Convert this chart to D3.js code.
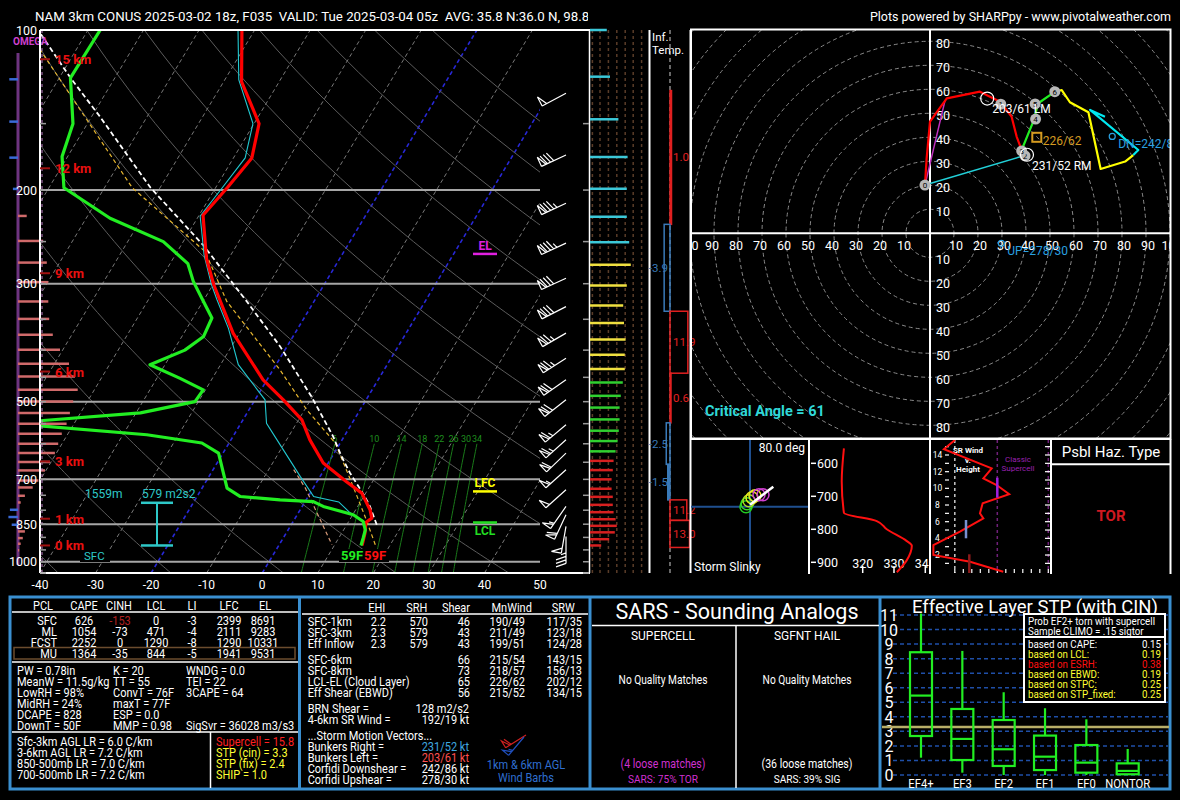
<!DOCTYPE html>
<html><head><meta charset="utf-8">
<script src="https://cdn.jsdelivr.net/npm/d3@7/dist/d3.min.js"></script>
<style>
html,body{margin:0;padding:0;background:#000;}
svg{display:block;}
text{font-family:Roboto,"Liberation Sans",Arial,sans-serif;white-space:pre;}
</style></head>
<body>
<svg id="chart" width="1180" height="800"></svg>
<script>
// ======================= DATA =======================
const titleLeft = "NAM 3km CONUS 2025-03-02 18z, F035  VALID: Tue 2025-03-04 05z  AVG: 35.8 N:36.0 N, 98.8";
const titleRight = "Plots powered by SHARPpy - www.pivotalweather.com";

// Skew-T profiles (pressure mb, deg C)
const tempP = [932,884,844,828,799,743,707,652,590,541,496,455,372,322,301,269,223,198,174,150,125,100];
const tempC = [15.0,14.2,13.2,13.8,12.6,9.3,5.3,-0.9,-5.8,-9.4,-14.9,-20.7,-31.1,-37.1,-39.9,-44.0,-49.3,-47.9,-46.7,-49.1,-56.8,-62.3];
const dwptP = [932,903,871,840,816,787,771,765,754,727,625,598,577,549,525,500,475,452,426,400,377,348,324,297,275,250,226,198,173,150,123,100];
const dwptC = [14.8,14.4,13.9,12.6,10.1,3.8,1.5,-4.7,-12.2,-15.5,-20.8,-24.9,-35.7,-62,-39.2,-30.6,-30.4,-35.8,-42.7,-38,-36.1,-36.6,-39.9,-43.9,-46.8,-53.6,-65.7,-77.3,-81,-82.6,-88,-87.8];
const wetbP = [932,903,871,840,810,772,754,691,603,549,496,426,364,322,301,265,224,198,174,150,124,100];
const wetbC = [14.9,14.5,14.0,12.8,9.4,6.1,1.0,-3.6,-10.6,-15.4,-18.2,-26.8,-32.5,-37.6,-40.3,-44.8,-49.7,-48.8,-47.9,-50.2,-57.5,-63];
const parcelP = [852,787,754,722,681,634,581,489,394,324,254,198,145,123,100];
const parcelC = [15.4,12.2,10.2,8.0,5.0,1.7,-2.0,-10.2,-21.2,-32.1,-46,-61.7,-78.7,-88,-99];
const parcel2P = [929,822,701,598,518,436,324,261,198,100];
const parcel2C = [17.3,12.4,5.8,-0.9,-9.6,-18.7,-35.7,-45,-65,-101];
const downP = [671,727,929];
const downC = [-5.5,-1.4,9.5];

const pressureLabels = [100,200,300,500,700,850,1000];
const isobars = [200,300,500,700,850,1000];
const tempLabels = [-40,-30,-20,-10,0,10,20,30,40,50];
const dryAdiabatsC = [-40,-20,0,20,40,60,80,100,120,140,160,180,200];
const mixRatios = [6,10,14,18,22,26,30,34];

const hgtLabels = ["15 km","12 km","9 km","6 km","3 km","1 km","0 km"];
const hgtP = [113.5,182,286.7,438.8,647.8,830,932];

const levelNames = ["LFC","LCL","EL"];
const levelP = [737.5,843.7,263.7];
const levelColors = ["#ffff00","#22dd22","#e020e0"];

const srhTopP = 774.7, srhBotP = 932;
const srhLabels = ["1559m","579 m2s2"];

// omega (arbitrary units, + right / - left)
const omegaP = [123.8,148.7,173.8,199,223.7,249.3,273.8,298,324,349.4,374.3,399.5,424.5,448.4,475,499.7,525.4,550.3,574.6,600,624.7,649.4,673.4,703.5,725,751.5,773.7,798.6,824,852,877,902.7,925,952];
const omegaV = [-2.9,-2.9,-2.9,-1.7,2.9,8.4,9.6,10.1,10.1,10.4,11.6,14,17,19,19.9,18.4,17.3,16.2,14.6,13.4,12.3,10.7,9,6.8,4.9,2.3,0.9,-2.7,-3.2,-2.1,2.3,1.6,0.9,0.4];

// wind barbs
const barbP = [131.5,171.8,211.7,251.7,292.9,331.3,371.6,414.1,454.9,496,552.7,589.8,624.7,671.4,732.2,787,816,858.3,896.1];
const barbDir = [242,245,245,245,245,243,240,237,235,232,230,228,226,228,228,215,205,190,180];
const barbSpd = [50,80,85,85,80,80,75,75,70,70,65,65,60,55,50,55,60,50,35];

// wind speed bars (kt)
const spdP = [100,122.4,147.2,173.3,198.8,224.6,250.6,276.5,302.5,329.6,355.5,382,408,434,460,487.5,513,540,567,593,620,646,672.5,700,729,755,781.6,807,832,856,880.5,907,932];
const spdV = [42,50,71,94,92,92,98,102,92,83,85,89,87,87,82,77,74,74,72,69,64,59,57,54,54,57,57,59,64,67,62,48,28];

// inferred temperature advection layers
const advTop = [130,232,338,442,548,656,765,836];
const advBot = [232,338,442,548,656,765,836,940];
const advVal = [1.0,-3.9,11.9,0.6,-2.5,-1.5,11.2,13.0];

// hodograph (kt)
const hodo03 = [[-2.1,20.1],[-1.4,31.2],[0,46.5],[3.5,51.4],[7,56.2],[20.8,59],[29.2,54.8],[34,48.6],[36.1,40.3],[38.2,34.7]];
const hodo36 = [[38.2,34.7],[43,46.5],[45.1,54.2],[52.1,59]];
const hodo69 = [[52.1,59],[54.9,59.7],[58.3,54.6],[66,50.4],[71.1,26.8],[81.3,29.9],[84.7,32.6]];
const hodo912 = [[84.7,32.6],[86.8,34.7],[66.7,51.4],[72.9,48.6]];
const hodoMarkKm = [0,1,2,3,4,5,6];
const hodoMarkUV = [[-2.1,20.1],[29.5,53.8],[39.6,32.3],[38.2,34.3],[44,47.6],[43.8,53.9],[52,59]];
const rmDirSpd = [231,52], lmDirSpd = [203,61], dnDirSpd = [242,86], upDirSpd = [278,30];
const meanWindUV = [44.5,40];
const criticalAngle = 61;

// storm slinky
const slinkyU = [-4,-3,-1,2,5,9,13];
const slinkyV = [-3,0,3,6,8,9,9];
const slinkyCol = ["#22cc22","#33dd22","#aadd22","#e8e820","#e8e820","#d040d0","#d040d0"];

// theta-e vs pressure
const thetaeP = [555,655,750,775,800,835,850,895,930];
const thetaeK = [314,313.3,314,324.5,327.7,334,335.7,334,330.9];

// SR wind vs height
const srKm = [15.8,14.7,12.4,11.2,10.4,9.3,8.2,7.0,6.4,4.8,3.2,2.0,1.2,0];
const srKt = [15.1,8.6,36.7,31.8,39.6,47,31.4,29.8,31.8,18,2.4,2.4,24,43.5];

// thermo table
const pclHeader = ["PCL","CAPE","CINH","LCL","LI","LFC","EL"];
const pclRows = [["SFC","626","-153","0","-3","2399","8691"],["ML","1054","-73","471","-4","2111","9283"],["FCST","2252","0","1290","-8","1290","10331"],["MU","1364","-35","844","-5","1941","9531"]];
const thermoCol1 = ["PW = 0.78in","MeanW = 11.5g/kg","LowRH = 98%","MidRH = 24%","DCAPE = 828","DownT = 50F"];
const thermoCol2 = ["K = 20","TT = 55","ConvT = 76F","maxT = 77F","ESP = 0.0","MMP = 0.98"];
const thermoCol3 = ["WNDG = 0.0","TEI = 22","3CAPE = 64","","","SigSvr = 36028 m3/s3"];
const lapseRates = ["Sfc-3km AGL LR = 6.0 C/km","3-6km AGL LR = 7.2 C/km","850-500mb LR = 7.0 C/km","700-500mb LR = 7.2 C/km"];
const svrIdx = ["Supercell = 15.8","STP (cin) = 3.3","STP (fix) = 2.4","SHIP = 1.0"];
const svrCol = ["#ff2020","#ffff33","#ffff33","#ffff33"];

// kinematic table
const kinHeader = ["EHI","SRH","Shear","MnWind","SRW"];
const kinRows1 = [["SFC-1km","2.2","570","46","190/49","117/35"],["SFC-3km","2.3","579","43","211/49","123/18"],["Eff Inflow","2.3","579","43","199/51","124/28"]];
const kinRows2 = [["SFC-6km","","","66","215/54","143/15"],["SFC-8km","","","73","218/57","156/13"],["LCL-EL (Cloud Layer)","","","65","226/62","202/12"],["Eff Shear (EBWD)","","","56","215/52","134/15"]];
const kinMisc = [["BRN Shear =","128 m2/s2"],["4-6km SR Wind =","192/19 kt"]];
const stormVec = [["Bunkers Right =","231/52 kt","#3fa9e0"],["Bunkers Left =","203/61 kt","#ff5050"],["Corfidi Downshear =","242/86 kt","#ffffff"],["Corfidi Upshear =","278/30 kt","#ffffff"]];

// STP box plot
const stpCats = ["EF4+","EF3","EF2","EF1","EF0","NONTOR"];
const stpLo = [1.19,0.16,0,0,0,0];
const stpQ1 = [2.68,1.03,0.62,0.34,0.16,0.05];
const stpMed = [5.46,2.48,1.77,1.26,0.85,0.28];
const stpQ3 = [8.44,4.54,3.78,2.71,2.06,0.8];
const stpHi = [11.1,8.53,5.69,4.59,3.83,1.79];
const stpValue = 3.3;
const stpTicks = [0,1,2,3,4,5,6,7,8,9,10,11];
const probLabels = ["based on CAPE:","based on LCL:","based on ESRH:","based on EBWD:","based on STPC:","based on STP_fixed:"];
const probVals = ["0.15","0.19","0.38","0.19","0.25","0.25"];
const probCols = ["#ffffff","#ffff33","#ff1010","#ffff33","#ffff33","#ffff33"];

// ======================= DRAW =======================
const svg = d3.select("#chart");
const defs = svg.append("defs");
svg.append("rect").attr("width",1180).attr("height",800).attr("fill","#000");
let clipN = 0;
function clip(x,y,w,h){ const id="cp"+(clipN++); defs.append("clipPath").attr("id",id).append("rect").attr("x",x).attr("y",y).attr("width",w).attr("height",h); return `url(#${id})`; }
function txt(g,x,y,s,o={}){
  const t=g.append("text").text(s).attr("fill",o.fill||"#fff").attr("font-size",o.size||12).attr("text-anchor",o.anchor||"start");
  if(o.cond){ t.attr("x",0).attr("y",0).attr("transform",`translate(${x},${y}) scale(${o.cond},1)`); }
  else t.attr("x",x).attr("y",y);
  if(o.weight) t.attr("font-weight",o.weight); return t; }
function line(g,x1,y1,x2,y2,c,w,dash){ const l=g.append("line").attr("x1",x1).attr("y1",y1).attr("x2",x2).attr("y2",y2).attr("stroke",c).attr("stroke-width",w||1); if(dash) l.attr("stroke-dasharray",dash); return l; }

// titles
txt(svg.append("g").attr("clip-path",clip(0,0,588,30)),35,21,titleLeft,{size:13.3});
txt(svg,1171,21,titleRight,{size:12.5,anchor:"end"});

// ---- Skew-T ----
const Y_TOP=30, Y_BOT=573, SKEW=0.6;
const yP = d3.scaleLog().domain([100,1050]).range([Y_TOP,Y_BOT]);
const xT = d3.scaleLinear().domain([-40,50]).range([40,540]);
const sx = (T,p) => xT(T) + SKEW*(Y_BOT - yP(p));
const skewLine = d3.line().x(d=>sx(d[1],d[0])).y(d=>yP(d[0]));
const zip = (a,b)=>a.map((v,i)=>[v,b[i]]);

const sk = svg.append("g");
const inner = sk.append("g").attr("clip-path",clip(40,30,500,543));
d3.range(-160,51,10).forEach(T=>{
  const hl = (T===0||T===-20);
  line(inner,sx(T,1050),yP(1050),sx(T,100),yP(100),hl?"#2828d8":"#7a7a7a",hl?1.6:1,"4,3");
});
const pGrid = d3.range(1050,99,-10);
dryAdiabatsC.forEach(th=>{
  const K=th+273.15;
  inner.append("path").attr("d",d3.line()(pGrid.map(p=>[sx(K*Math.pow(p/1000,0.2857)-273.15,p),yP(p)])))
    .attr("fill","none").attr("stroke","#5c5c5c").attr("stroke-width",1);
});
const tdFromW=(w,p)=>{const e=w*p/(622+w); const l=Math.log(e/6.112); return 243.5*l/(17.67-l);};
mixRatios.forEach(w=>{
  inner.append("path").attr("d",d3.line()(d3.range(1050,599,-10).map(p=>[sx(tdFromW(w,p),p),yP(p)])))
    .attr("fill","none").attr("stroke","#1a7a1a").attr("stroke-width",1);
  txt(inner,sx(tdFromW(w,600),600),yP(600)-2,String(w),{size:9,fill:"#1f8f1f",anchor:"middle"});
});
isobars.forEach(p=>line(inner,40,yP(p),540,yP(p),"#a6a6a6",2));
inner.append("path").attr("d",skewLine(zip(downP,downC))).attr("fill","none").attr("stroke","#d89a78").attr("stroke-width",1.2).attr("stroke-dasharray","4,3");
inner.append("path").attr("d",skewLine(zip(parcel2P,parcel2C))).attr("fill","none").attr("stroke","#e8b830").attr("stroke-width",1.2).attr("stroke-dasharray","4,3");
inner.append("path").attr("d",skewLine(zip(parcelP,parcelC))).attr("fill","none").attr("stroke","#ffffff").attr("stroke-width",1.8).attr("stroke-dasharray","5,3");
inner.append("path").attr("d",skewLine(zip(wetbP,wetbC))).attr("fill","none").attr("stroke","#22c8d0").attr("stroke-width",1.1);
inner.append("path").attr("d",skewLine(zip(tempP,tempC))).attr("fill","none").attr("stroke","#ff0000").attr("stroke-width",3.2).attr("stroke-linejoin","round");
inner.append("path").attr("d",skewLine(zip(dwptP,dwptC))).attr("fill","none").attr("stroke","#22ee22").attr("stroke-width",3.2).attr("stroke-linejoin","round");

levelNames.forEach((n,i)=>{
  const y=yP(levelP[i]);
  line(sk,473,y,497,y,levelColors[i],2.5);
  txt(sk,485,n==="LCL"?y+13:y-4,n,{size:12,fill:levelColors[i],anchor:"middle",weight:"bold"});
});
{
  const y1=yP(srhTopP), y2=yP(srhBotP), c="#2ec8c8";
  line(sk,157,y1,157,y2,c,2); line(sk,141,y1,173,y1,c,2.5); line(sk,141,y2,173,y2,c,2.5);
  txt(sk,85,y1-5,srhLabels[0],{size:12,fill:c});
  txt(sk,142,y1-5,srhLabels[1],{size:12,fill:c});
}
sk.append("rect").attr("x",80).attr("y",550).attr("width",30).attr("height",12).attr("fill","#000");
txt(sk,84,560,"SFC",{size:11.5,fill:"#2ec8c8"});
sk.append("rect").attr("x",339).attr("y",549).attr("width",50).attr("height",13).attr("fill","#000");
txt(sk,341,560,"59F",{size:13,fill:"#22ee22",weight:"bold"});
txt(sk,364,560,"59F",{size:13,fill:"#ff1010",weight:"bold"});

line(sk,18,53,18,565,"#6e3480",3);
omegaP.forEach((p,i)=>{
  const v=omegaV[i], y=yP(p);
  line(sk,18,y,18+v*3,y,v<0?"#3a6ad8":"#d06a6a",2.5);
});
txt(sk,13,45,"OMEGA",{size:10,fill:"#d040d0",weight:"bold"});

line(sk,40,30,40,573,"#ffffff",2);
line(sk,42,30,42,573,"#c080c8",1,"3,3");
line(sk,40,30,590,30,"#ffffff",2);
line(sk,40,573,590,573,"#ffffff",2);
line(sk,589.5,30,589.5,573,"#ffffff",1.5);
d3.range(150,1051,50).forEach(p=>{ line(sk,40,yP(p),46,yP(p),"#9a9a9a",1.5); line(sk,583,yP(p),589,yP(p),"#9a9a9a",1.5); });
pressureLabels.forEach(p=>txt(sk,37,yP(p)+4.5,String(p),{size:12.5,anchor:"end"}));
tempLabels.forEach(T=>txt(sk,xT(T),589,String(T),{size:12,anchor:"middle"}));
hgtLabels.forEach((s,i)=>{
  const y=yP(hgtP[i]);
  line(sk,40,y,50,y,"#a01010",2);
  txt(sk,55,y+5,s,{size:13,fill:"#e81010",weight:"bold"});
});

function drawBarb(g,x0,y0,dir,spd,col,L,F){
  L=L||27; F=F||10; col=col||"#fff";
  const a=dir*Math.PI/180, dx=Math.sin(a), dy=-Math.cos(a), rx=-dy, ry=dx;
  const pt=t=>[x0+dx*t,y0+dy*t];
  const p=d3.path(); const tip=pt(L);
  p.moveTo(x0,y0); p.lineTo(tip[0],tip[1]);
  let v=Math.round(spd/5)*5, s=0;
  const nP=Math.floor(v/50); v-=nP*50; const nF=Math.floor(v/10); v-=nF*10; const nH=v>=5?1:0;
  for(let i=0;i<nP;i++){ const a1=pt(L-s), a2=pt(L-s-5); p.moveTo(a1[0],a1[1]); p.lineTo(a1[0]+rx*F,a1[1]+ry*F); p.lineTo(a2[0],a2[1]); s+=6.5; }
  for(let i=0;i<nF;i++){ const a1=pt(L-s); p.moveTo(a1[0],a1[1]); p.lineTo(a1[0]+rx*F+dx*3.5,a1[1]+ry*F+dy*3.5); s+=3.5; }
  if(nH){ if(s===0) s=3.5; const a1=pt(L-s); p.moveTo(a1[0],a1[1]); p.lineTo(a1[0]+rx*F/2+dx*1.8,a1[1]+ry*F/2+dy*1.8); }
  g.append("path").attr("d",p.toString()).attr("stroke",col).attr("fill","none").attr("stroke-width",1.2);
}
barbP.forEach((p,i)=>drawBarb(sk,566,yP(p),barbDir[i],barbSpd[i]));

// ---- wind speed bars panel ----
const sp = svg.append("g");
const spX = d3.scaleLinear().domain([0,100]).range([590,630]);
[6,25,46,67,88,108,129].forEach(k=>line(sp,spX(k),30,spX(k),573,"#5a3c28",1.5,"3,3"));
spdP.forEach((p,i)=>{
  const c = p<=260?"#3cc8d8":(p<=440?"#f0e040":(p<=635?"#30d030":"#d82020"));
  line(sp,590,yP(p),spX(spdV[i]),yP(p),c,2.5);
});
line(sp,649.5,30,649.5,573,"#ffffff",2);

// ---- inferred temp advection ----
const ia = svg.append("g");
line(ia,670,30,670,573,"#8a8a8a",1.5,"4,3");
txt(ia,652,41,"Inf.",{size:11.5});
txt(ia,652,54,"Temp.",{size:11.5});
advVal.forEach((v,i)=>{
  const y1=yP(advTop[i]), y2=yP(advBot[i]), w=Math.abs(v)*1.5, pos=v>0;
  const c=pos?"#e02020":"#3a7ab8";
  ia.append("rect").attr("x",pos?670:670-w).attr("y",y1).attr("width",Math.max(w,1)).attr("height",y2-y1)
    .attr("fill",w<3?c:"none").attr("stroke",c).attr("stroke-width",1.5);
  const ym=(y1+y2)/2+4;
  if(pos) txt(ia,673,ym,v.toFixed(1),{size:11.5,fill:c});
  else txt(ia,668,ym,v.toFixed(1),{size:11.5,fill:c,anchor:"end"});
});
line(ia,690.5,30,690.5,573,"#ffffff",2);

// ---- hodograph ----
const hcx=930, hcy=233.3, hs=2.4;
const hx=u=>hcx+u*hs, hy=v=>hcy-v*hs;
const uvFromDir=(d,s)=>{const a=d*Math.PI/180; return [-s*Math.sin(a),-s*Math.cos(a)];};
const hg = svg.append("g");
const hodo = hg.append("g").attr("clip-path",clip(691,30,479,408));
d3.range(10,141,10).forEach(r=>hodo.append("circle").attr("cx",hcx).attr("cy",hcy).attr("r",r*hs).attr("fill","none").attr("stroke","#8a8a8a").attr("stroke-width",1).attr("stroke-dasharray","4,3"));
line(hodo,hcx,29,hcx,438,"#ffffff",2);
line(hodo,690,hcy,1171,hcy,"#ffffff",2);
d3.range(10,101,10).forEach(r=>{
  if(r<=80){ txt(hodo,936,hy(r)+7,String(r),{size:12.5}); txt(hodo,936,hy(-r)+7,String(r),{size:12.5}); }
  txt(hodo,hx(r)+2,250,String(r),{size:12.5,anchor:"middle"});
  txt(hodo,hx(-r)-2,250,String(r),{size:12.5,anchor:"middle"});
});
const hl = d3.line().x(d=>hx(d[0])).y(d=>hy(d[1]));
const rm=uvFromDir(...rmDirSpd), lm=uvFromDir(...lmDirSpd), dn=uvFromDir(...dnDirSpd), up=uvFromDir(...upDirSpd);
hodo.append("path").attr("d",hl([hodo03[0],rm])).attr("stroke","#22d0d8").attr("stroke-width",1.5).attr("fill","none");
hodo.append("path").attr("d",hl([hodo03[0],[6.3,55.5]])).attr("stroke","#c030c0").attr("stroke-width",1.5).attr("fill","none");
[[hodo03,"#ff0000"],[hodo36,"#22ee22"],[hodo69,"#ffff00"],[hodo912,"#00e8f0"]].forEach(([d,c])=>hodo.append("path").attr("d",hl(d)).attr("stroke",c).attr("stroke-width",2.2).attr("fill","none").attr("stroke-linejoin","round"));
hodoMarkKm.forEach((k,i)=>{
  const [u,v]=hodoMarkUV[i];
  hodo.append("circle").attr("cx",hx(u)).attr("cy",hy(v)).attr("r",5.5).attr("fill","#b8b8b8");
  txt(hodo,hx(u),hy(v)+3,String(k),{size:8,fill:"#000",anchor:"middle"});
});
[rm,lm].forEach(m=>hodo.append("circle").attr("cx",hx(m[0])).attr("cy",hy(m[1])).attr("r",6.5).attr("fill","none").attr("stroke","#fff").attr("stroke-width",1.2));
txt(hodo,hx(lm[0])+5,hy(lm[1])+14,lmDirSpd[0]+"/"+lmDirSpd[1]+" LM",{size:12});
txt(hodo,hx(rm[0])+5,hy(rm[1])+15,rmDirSpd[0]+"/"+rmDirSpd[1]+" RM",{size:12});
hodo.append("rect").attr("x",hx(meanWindUV[0])-4.5).attr("y",hy(meanWindUV[1])-4.5).attr("width",9).attr("height",9).attr("fill","none").attr("stroke","#d49a20").attr("stroke-width",2);
txt(hodo,hx(meanWindUV[0])+6,hy(meanWindUV[1])+8,"226/62",{size:12,fill:"#d49a20"});
[[dn,"DN="+dnDirSpd[0]+"/"+dnDirSpd[1]],[up,"UP="+upDirSpd[0]+"/"+upDirSpd[1]]].forEach(([m,s])=>{
  hodo.append("circle").attr("cx",hx(m[0])).attr("cy",hy(m[1])).attr("r",3).attr("fill","none").attr("stroke","#2aa0e0").attr("stroke-width",1.2);
  txt(hodo,hx(m[0])+6,hy(m[1])+12,s,{size:12,fill:"#2aa0e0"});
});
txt(hodo,705,416,"Critical Angle = "+criticalAngle,{size:14.5,fill:"#30d8d8",weight:"bold"});
hg.append("rect").attr("x",691).attr("y",29.5).attr("width",479.5).attr("height",409).attr("fill","none").attr("stroke","#fff").attr("stroke-width",2);

// ---- lower inset panels ----
const lp = svg.append("g");
line(lp,690,439,1171,439,"#fff",2);
[809,930,1051,1170.5].forEach(x=>line(lp,x,439,x,574,"#fff",2));
const slx=750, sly=506.7;
line(lp,slx,440,slx,573,"#1f4f8f",2); line(lp,691,sly,808,sly,"#1f4f8f",2);
slinkyU.forEach((u,i)=>lp.append("circle").attr("cx",slx+u).attr("cy",sly-slinkyV[i]-3).attr("r",6).attr("fill","none").attr("stroke",slinkyCol[i]).attr("stroke-width",1.5));
line(lp,slx,sly-2,773.3,486.7,"#fff",2.5);
txt(lp,805,452,"80.0 deg",{size:12,anchor:"end"});
txt(lp,694,571,"Storm Slinky",{size:12});
const tg = lp.append("g").attr("clip-path",clip(810,440,120,133));
const teY = d3.scaleLinear().domain([600,900]).range([463.3,562.3]);
const teX = d3.scaleLinear().domain([320,330]).range([862.7,894]);
[600,700,800,900].forEach(p=>{ line(tg,811,teY(p),816,teY(p),"#fff",1.5); txt(tg,817,teY(p)+5,String(p),{size:12.5}); });
[320,330,340].forEach(t=>{ line(tg,teX(t),566,teX(t),573,"#fff",1.5); txt(tg,teX(t),568,String(t),{size:12.5,anchor:"middle"}); });
tg.append("path").attr("d",d3.line().x(d=>teX(d[1])).y(d=>teY(d[0])).curve(d3.curveMonotoneY)(zip(thetaeP,thetaeK))).attr("fill","none").attr("stroke","#ff1010").attr("stroke-width",2);
const sg = lp.append("g").attr("clip-path",clip(931,440,119,133));
const srY = d3.scaleLinear().domain([0,14]).range([571.7,455]);
const srX = d3.scaleLinear().domain([0,40]).range([929.3,997.3]);
line(sg,srX(15),440,srX(15),573,"#c8c8c8",1.5,"3,3");
line(sg,srX(40),440,srX(40),573,"#70207a",1.5,"3,3");
line(sg,srX(70),440,srX(70),573,"#70207a",1.5,"3,3");
d3.range(1,16,1).forEach(k=>{ line(sg,945,srY(k),949,srY(k),"#fff",1.2); line(sg,1045,srY(k),1050,srY(k),"#fff",1.2); });
d3.range(2,15,2).forEach(k=>txt(sg,937.5,srY(k)+3,String(k),{size:8.5,anchor:"middle"}));
d3.range(15,71,5).forEach(k=>line(sg,srX(k),569,srX(k),573,"#fff",1.2));
[["SR Wind",453],["v.",463],["Height",472]].forEach(([s,y])=>txt(sg,968,y,s,{size:8,anchor:"middle",weight:"bold"}));
[["Classic",462],["Supercell",471]].forEach(([s,y])=>txt(sg,1018,y,s,{size:8,anchor:"middle",fill:"#9a20b0"}));
sg.append("path").attr("d",d3.line().x(d=>srX(d[1])).y(d=>srY(d[0]))(zip(srKm,srKt))).attr("fill","none").attr("stroke","#ff1010").attr("stroke-width",2);
line(sg,997.3,477.7,997.3,497.7,"#a020e0",2.5);
line(sg,966,520,966,538.3,"#7890d0",2.5);
line(sg,969.3,554.3,969.3,573,"#8b1a1a",2.5);
txt(lp,1111,457,"Psbl Haz. Type",{size:15,anchor:"middle"});
line(lp,1051,464.3,1171,464.3,"#fff",2);
txt(lp,1111,521,"TOR",{size:15,anchor:"middle",fill:"#d01820",weight:"bold"});

// ---- bottom panels ----
const bp = svg.append("g");
const C = 0.88, FS = 12.5;
bp.append("rect").attr("x",10).attr("y",597).attr("width",1160).attr("height",192).attr("fill","none").attr("stroke","#3a8fd0").attr("stroke-width",3);
[299.5,590,880].forEach(x=>line(bp,x,597,x,789,"#3a8fd0",3));
const hdrX=[43,84,119,156,192,229,265];
pclHeader.forEach((h,i)=>txt(bp,hdrX[i],610,h,{size:FS,anchor:"middle",cond:C}));
line(bp,12,612,298,612,"#fff",1.5);
bp.append("rect").attr("x",14).attr("y",647.5).attr("width",281).attr("height",11.5).attr("fill","none").attr("stroke","#6b4c2e").attr("stroke-width",1.5);
const valX=[57,84,120,156,192,229,263];
pclRows.forEach((r,j)=>r.forEach((s,i)=>txt(bp,valX[i],624.5+j*11,s,{size:FS,anchor:i===0?"end":"middle",cond:C,fill:(j===0&&i===2)?"#b02020":"#fff"})));
line(bp,12,662,298,662,"#fff",1.5);
const trY=[674.5,685.5,696.5,707.5,718.5,729.5];
thermoCol1.forEach((s,i)=>txt(bp,17,trY[i],s,{size:FS,cond:C}));
thermoCol2.forEach((s,i)=>txt(bp,113,trY[i],s,{size:FS,cond:C}));
thermoCol3.forEach((s,i)=>txt(bp,186,trY[i],s,{size:FS,cond:C}));
line(bp,12,732,298,732,"#fff",1.5);
line(bp,210.5,732,210.5,788,"#fff",1.5);
lapseRates.forEach((s,i)=>txt(bp,17,745.5+i*11,s,{size:FS,cond:C}));
svrIdx.forEach((s,i)=>txt(bp,216,745.5+i*11,s,{size:FS,cond:C,fill:svrCol[i]}));
const kHX=[376.7,416.7,456,511.7,563.3], kVX=[386,428,470,525,582];
kinHeader.forEach((h,i)=>txt(bp,kHX[i],612,h,{size:FS,anchor:"middle",cond:C}));
line(bp,302,614,588,614,"#fff",1.5);
kinRows1.forEach((r,j)=>{ txt(bp,307.7,625.5+j*11,r[0],{size:FS,cond:C}); r.slice(1).forEach((s,i)=>txt(bp,kVX[i],625.5+j*11,s,{size:FS,anchor:"end",cond:C})); });
kinRows2.forEach((r,j)=>{ txt(bp,307.7,663.5+j*11,r[0],{size:FS,cond:C}); r.slice(1).forEach((s,i)=>{ if(s) txt(bp,kVX[i],663.5+j*11,s,{size:FS,anchor:"end",cond:C}); }); });
kinMisc.forEach((r,j)=>{ txt(bp,307.7,712.5+j*11,r[0],{size:FS,cond:C}); txt(bp,469,712.5+j*11,r[1],{size:FS,anchor:"end",cond:C}); });
txt(bp,307.7,739.5,"...Storm Motion Vectors...",{size:FS,cond:C});
stormVec.forEach((r,j)=>{ txt(bp,307.7,750.5+j*11,r[0],{size:FS,cond:C}); txt(bp,469,750.5+j*11,r[1],{size:FS,anchor:"end",cond:C,fill:r[2]}); });
drawBarb(bp,526,735,238,60,"#d02020",24,8);
drawBarb(bp,524,737,220,55,"#2050c0",24,8);
txt(bp,526,769,"1km & 6km AGL",{size:FS,anchor:"middle",fill:"#2f6fd0",cond:C});
txt(bp,526,782,"Wind Barbs",{size:FS,anchor:"middle",fill:"#2f6fd0",cond:C});
txt(bp,737,619,"SARS - Sounding Analogs",{size:21.5,anchor:"middle"});
line(bp,592,625.5,879,625.5,"#fff",1.5);
line(bp,736,625.5,736,788,"#fff",1.5);
txt(bp,663,640,"SUPERCELL",{size:13,anchor:"middle",cond:0.92});
txt(bp,807,640,"SGFNT HAIL",{size:13,anchor:"middle",cond:0.92});
txt(bp,663,684,"No Quality Matches",{size:12,anchor:"middle",cond:0.85});
txt(bp,807,684,"No Quality Matches",{size:12,anchor:"middle",cond:0.85});
txt(bp,663,768,"(4 loose matches)",{size:12,anchor:"middle",fill:"#d030d0",cond:0.88});
txt(bp,663,783,"SARS: 75% TOR",{size:11.5,anchor:"middle",fill:"#d030d0",cond:0.88});
txt(bp,807,768,"(36 loose matches)",{size:12,anchor:"middle",cond:0.88});
txt(bp,807,783,"SARS: 39% SIG",{size:11.5,anchor:"middle",cond:0.88});
const stY = d3.scaleLinear().domain([0,11]).range([775,615]);
const stX = d3.scalePoint().domain(stpCats).range([921,1127.7]);
stpTicks.forEach(v=>{ line(bp,893,stY(v),1168,stY(v),"#1f4fa8",1.5,"4,3"); txt(bp,889,stY(v)+6,String(v),{size:16,anchor:"middle"}); });
line(bp,882,stY(stpValue),1169,stY(stpValue),"#b8ae68",2.5);
stpCats.forEach((c,i)=>{
  const x=stX(c), w=22;
  line(bp,x,stY(stpHi[i]),x,stY(stpQ3[i]),"#22ee22",2.2);
  line(bp,x,stY(stpQ1[i]),x,stY(stpLo[i]),"#22ee22",2.2);
  bp.append("rect").attr("x",x-w/2).attr("y",stY(stpQ3[i])).attr("width",w).attr("height",stY(stpQ1[i])-stY(stpQ3[i])).attr("fill","none").attr("stroke","#22ee22").attr("stroke-width",2.2);
  line(bp,x-w/2,stY(stpMed[i]),x+w/2,stY(stpMed[i]),"#22ee22",2.2);
  txt(bp,x,788,c,{size:12.5,anchor:"middle",cond:0.9});
});
txt(bp,1035,613,"Effective Layer STP (with CIN)",{size:18.5,anchor:"middle"});
bp.append("rect").attr("x",1024).attr("y",614).attr("width",141).attr("height",23).attr("fill","#000").attr("stroke","#fff").attr("stroke-width",2);
bp.append("rect").attr("x",1024).attr("y",637).attr("width",141).attr("height",65).attr("fill","#000").attr("stroke","#fff").attr("stroke-width",2);
txt(bp,1028,624.5,"Prob EF2+ torn with supercell",{size:11.5,cond:0.85});
txt(bp,1028,634.5,"Sample CLIMO = .15 sigtor",{size:11.5,cond:0.85});
probLabels.forEach((s,i)=>{ txt(bp,1028,647.5+i*10,s,{size:11.5,fill:probCols[i],cond:0.85}); txt(bp,1161,647.5+i*10,probVals[i],{size:11.5,fill:probCols[i],anchor:"end",cond:0.85}); });
</script>
</body></html>
